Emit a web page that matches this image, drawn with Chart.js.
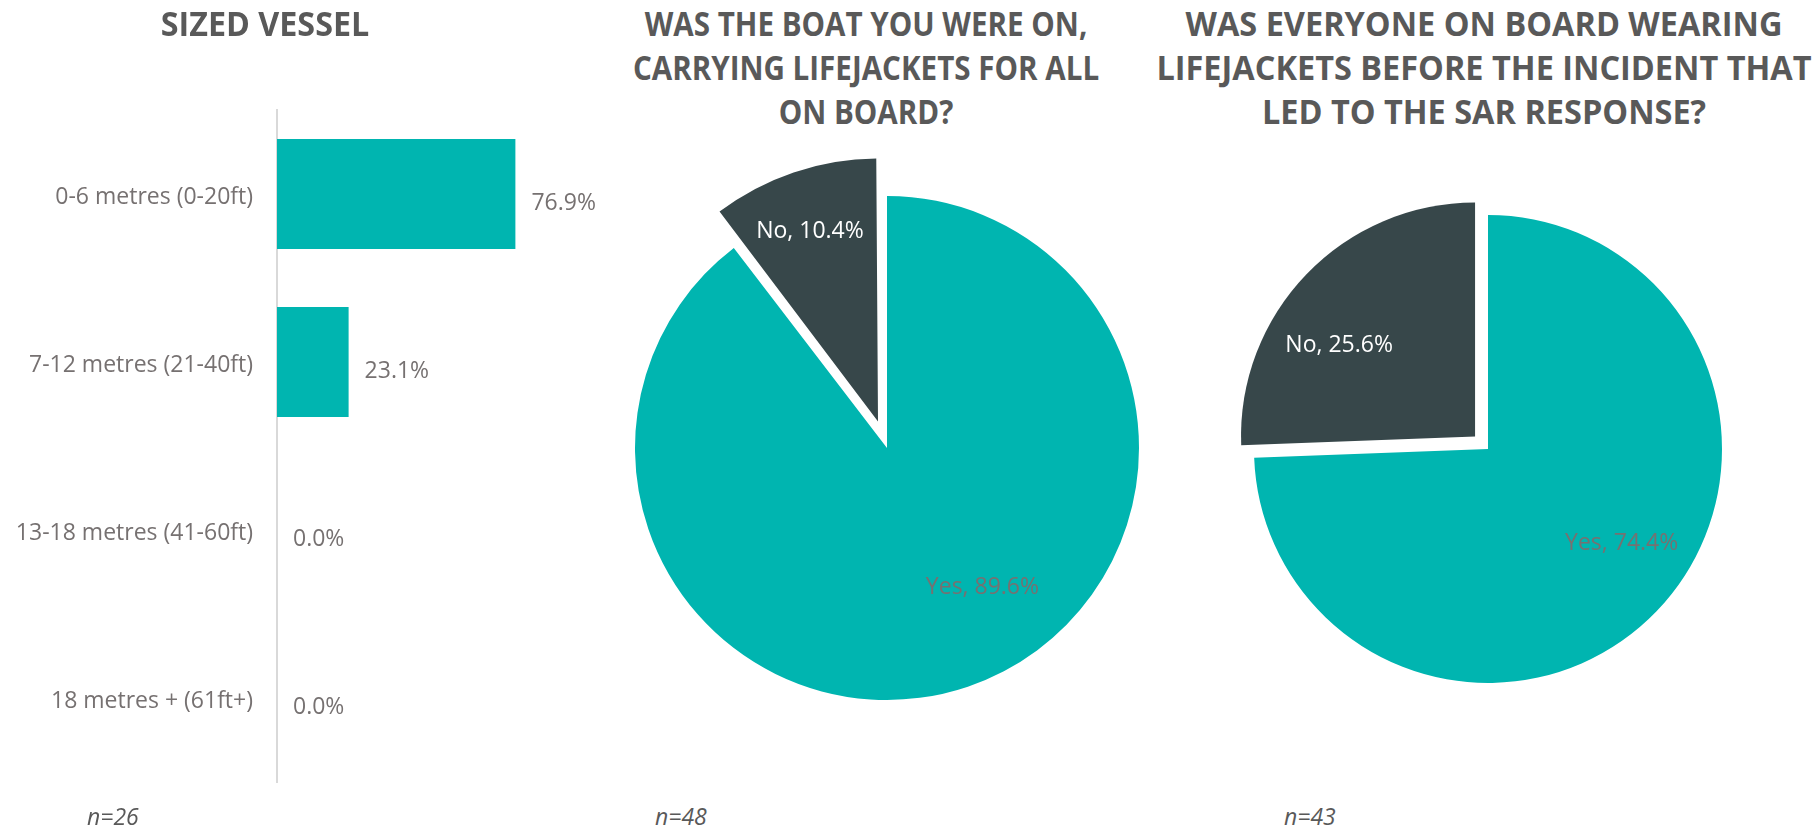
<!DOCTYPE html>
<html>
<head>
<meta charset="utf-8">
<title>Vessel size and lifejackets</title>
<script src="https://cdn.jsdelivr.net/npm/chart.js@4.4.1/dist/chart.umd.min.js"></script>
<style>
  html, body { margin: 0; padding: 0; background: #fff; }
  #page { position: relative; width: 1817px; height: 829px; overflow: hidden; font-family: "Open Sans", sans-serif; }
  canvas { position: absolute; }
  .title { position: absolute; top: 1px; font-weight: 700; font-size: 34px; line-height: 44px; color: #595959; text-align: center; white-space: nowrap; transform-origin: 50% 0; }
  .note { position: absolute; top: 801px; font-style: italic; font-size: 23px; line-height: 30px; color: #595959; }
</style>
</head>
<body>
<div id="page">
  <canvas id="sizeChart" width="600" height="829" style="left:0;top:0"></canvas>
  <canvas id="carryChart" width="560" height="600" style="left:607px;top:148px"></canvas>
  <canvas id="wearChart" width="560" height="600" style="left:1208px;top:149px"></canvas>

  <div class="title" style="left:65px;width:400px;transform:scaleX(0.95)">SIZED VESSEL</div>
  <div class="title" style="left:566px;width:600px;transform:scaleX(0.87)">WAS THE BOAT YOU WERE ON,<br>CARRYING LIFEJACKETS FOR ALL<br>ON BOARD?</div>
  <div class="title" style="left:1134px;width:700px;transform:scaleX(0.955)">WAS EVERYONE ON BOARD WEARING<br>LIFEJACKETS BEFORE THE INCIDENT THAT<br>LED TO THE SAR RESPONSE?</div>

  <div class="note" id="note0" style="left:87px"></div>
  <div class="note" id="note1" style="left:655px"></div>
  <div class="note" id="note2" style="left:1284px"></div>
</div>
<script>
// survey results
const sizeCategories = ['0-6 metres (0-20ft)', '7-12 metres (21-40ft)', '13-18 metres (41-60ft)', '18 metres + (61ft+)'];
const sizeShares = [76.9, 23.1, 0.0, 0.0];
const answerLabels = ['Yes', 'No'];
const carryingShares = [89.6, 10.4];
const wearingShares = [74.4, 25.6];
const sampleSizes = [26, 48, 43];

const TEAL = '#00B5B0';
const SLATE = '#37474A';
const LABEL_GREY = '#767171';
const FONT = '"Open Sans", sans-serif';

sampleSizes.forEach((n, i) => {
    document.getElementById('note' + i).textContent = 'n=' + n;
});

// percentage text just past the end of each bar
const barValueLabels = {
    id: 'barValueLabels',
    afterDatasetsDraw(chart) {
        const ctx = chart.ctx;
        const values = chart.data.datasets[0].data;
        ctx.save();
        ctx.font = `23px ${FONT}`;
        ctx.fillStyle = LABEL_GREY;
        ctx.textAlign = 'left';
        ctx.textBaseline = 'middle';
        chart.getDatasetMeta(0).data.forEach((bar, i) => {
            ctx.fillText(values[i].toFixed(1) + '%', bar.x + 16, bar.y + 9);
        });
        ctx.restore();
    }
};

// "Yes, 89.6%" style text inside each slice
const sliceLabels = {
    id: 'sliceLabels',
    afterDatasetsDraw(chart, args, opts) {
        const ctx = chart.ctx;
        const values = chart.data.datasets[0].data;
        ctx.save();
        ctx.font = `23px ${FONT}`;
        ctx.textAlign = 'center';
        ctx.textBaseline = 'middle';
        chart.getDatasetMeta(0).data.forEach((arc, i) => {
            const place = opts.placement[i];
            const mid = (arc.startAngle + arc.endAngle) / 2;
            const turned = mid + place.turn * Math.PI / 180;
            // arcs are shifted by a quarter of their offset option
            const off = (arc.options.offset || 0) / 4;
            const x = arc.x + Math.cos(mid) * off + Math.cos(turned) * place.depth * arc.outerRadius;
            const y = arc.y + Math.sin(mid) * off + Math.sin(turned) * place.depth * arc.outerRadius;
            ctx.fillStyle = place.color;
            ctx.fillText(`${chart.data.labels[i]}, ${values[i].toFixed(1)}%`, x, y);
        });
        ctx.restore();
    }
};

new Chart(document.getElementById('sizeChart'), {
    type: 'bar',
    data: {
        labels: sizeCategories,
        datasets: [{
            data: sizeShares,
            backgroundColor: TEAL,
            categoryPercentage: 1,
            barPercentage: 0.655
        }]
    },
    options: {
        indexAxis: 'y',
        responsive: false,
        animation: false,
        layout: { padding: { top: 110, bottom: 47, left: 0, right: 13 } },
        scales: {
            x: { display: false, min: 0, max: 100 },
            y: {
                afterFit: scale => { scale.width = 277 },
                grid: { display: false, drawTicks: false },
                border: { display: true, color: '#d9d9d9', width: 2 },
                ticks: { padding: 24, labelOffset: 3, color: LABEL_GREY, font: { family: FONT, size: 23 } }
            }
        },
        plugins: {
            legend: { display: false },
            tooltip: { enabled: false }
        }
    },
    plugins: [barValueLabels]
});

// explode is the gap in pixels the "No" slice is pulled out by
function makePie(canvasId, shares, radius, explode, placement) {
    return new Chart(document.getElementById(canvasId), {
        type: 'pie',
        data: {
            labels: answerLabels,
            datasets: [{
                data: shares,
                backgroundColor: [TEAL, SLATE],
                borderWidth: 0,
                offset: [0, explode * 4],
                radius: radius
            }]
        },
        options: {
            responsive: false,
            animation: false,
            plugins: {
                legend: { display: false },
                tooltip: { enabled: false },
                sliceLabels: { placement: placement }
            }
        },
        plugins: [sliceLabels]
    });
}

makePie('carryChart', carryingShares, 252, 28, [
    { depth: 0.67, turn: -15.7, color: LABEL_GREY },
    { depth: 0.80, turn: -1, color: '#ffffff' }
]);

makePie('wearChart', wearingShares, 234, 18, [
    { depth: 0.70, turn: -8.6, color: LABEL_GREY },
    { depth: 0.70, turn: -10, color: '#ffffff' }
]);
</script>
</body>
</html>
